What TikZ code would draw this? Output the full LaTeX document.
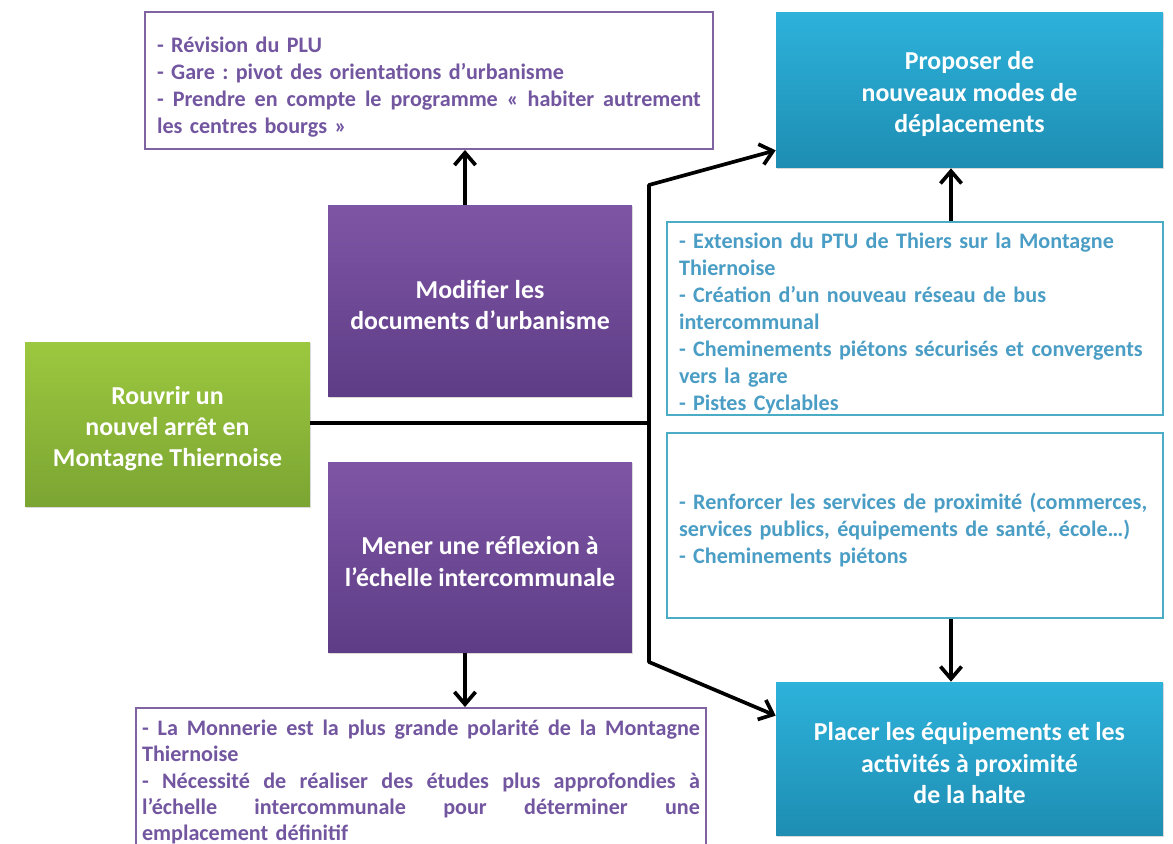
\documentclass[tikz,border=0pt]{standalone}
\usepackage{fontspec}
\setmainfont{Carlito}
\usetikzlibrary{positioning, arrows.meta, shadows}
\frenchspacing

\definecolor{violettrait}{HTML}{8064A2}
\definecolor{violettexte}{HTML}{7356A0}
\definecolor{bleutrait}{HTML}{4BACC6}
\definecolor{bleutexte}{HTML}{4A9DC4}

% ligne justifiee a la main
\newcommand{\justligne}[2]{\leavevmode\hbox to #1{\spaceskip=\fontdimen2\font plus 1fil\relax #2}}
% cale en tete de texte
\newcommand{\cale}[1]{\rule{0pt}{#1}}

\begin{document}
\begin{tikzpicture}[x=0.02cm, y=-0.02cm, >={Straight Barb[length=7pt,width=12pt]},
    lien/.style={line width=2.1pt, line join=round},
    titre/.style={rectangle, align=center, text=white, inner sep=0pt,
      font=\fontsize{14.7}{17.8}\selectfont\bfseries,
      drop shadow={shadow xshift=0.8pt, shadow yshift=-0.8pt, opacity=0.3}},
    violet node/.style={titre, top color={rgb,255:red,126;green,85;blue,165},
      bottom color={rgb,255:red,94;green,61;blue,134}, minimum width=6.08cm},
    vert node/.style={titre, top color={rgb,255:red,156;green,200;blue,63},
      bottom color={rgb,255:red,123;green,165;blue,50}},
    bleu node/.style={titre, top color={rgb,255:red,45;green,178;blue,219},
      bottom color={rgb,255:red,30;green,141;blue,178}, minimum width=7.74cm},
    liste/.style={rectangle, draw, line width=1.1pt, fill=white, align=left,
      inner xsep=0.24cm, inner ysep=0pt, font=\fontsize{12.6}{15.4}\selectfont\bfseries},
    liste violet/.style={liste, draw=violettrait, text=violettexte},
    liste bleu/.style={liste, draw=bleutrait, text=bleutexte}]

  \useasboundingbox (0,0) rectangle (1173,844);

  % noeuds principaux
  \node[vert node, minimum width=5.7cm, minimum height=3.3cm] (rouvrir) at (167.5,424.5)
    {\cale{15pt}Rouvrir un\\nouvel arrêt en\\Montagne Thiernoise};
  \node[violet node, minimum height=3.84cm] (modifier) at (480,301)
    {\cale{15pt}Modifier les\\documents d’urbanisme};
  \node[violet node, minimum height=3.82cm] (mener) at (480,557.5)
    {\cale{15pt}Mener une réflexion à\\l’échelle intercommunale};
  \node[bleu node, minimum height=3.12cm] (proposer) at (969.5,90)
    {\cale{15pt}Proposer de\\nouveaux modes de\\déplacements};
  \node[bleu node, minimum height=3.08cm] (placer) at (969.5,759)
    {\cale{15pt}Placer les équipements et les\\activités à proximité\\de la halte};

  % encadres
  \node[liste violet, text width=10.88cm, minimum width=11.36cm, minimum height=2.74cm] (haut) at (429,80.5)
    {\cale{16.8pt}- Révision du PLU\\
     - Gare : pivot des orientations d’urbanisme\\
     \justligne{10.88cm}{- Prendre en compte le programme «~habiter autrement}\\
     les centres bourgs~»};
  \node[liste violet, inner xsep=0.12cm, text width=11.16cm, minimum width=11.4cm, minimum height=2.96cm,
        font=\fontsize{12.6}{14.9}\selectfont\bfseries] (bas) at (421,782)
    {\justligne{11.16cm}{- La Monnerie est la plus grande polarité de la Montagne}\\
     Thiernoise\\
     \justligne{11.16cm}{- Nécessité de réaliser des études plus approfondies à}\\
     \justligne{11.16cm}{l’échelle intercommunale pour déterminer une}\\
     emplacement définitif};
  \node[liste bleu, text width=9.44cm, minimum width=9.92cm, minimum height=3.86cm] (mobil) at (915,318.5)
    {\cale{14.4pt}- Extension du PTU de Thiers sur la Montagne\\
     Thiernoise\\
     - Création d’un nouveau réseau de bus\\
     intercommunal\\
     - Cheminements piétons sécurisés et convergents\\
     vers la gare\\
     - Pistes Cyclables};
  \node[liste bleu, text width=9.44cm, minimum width=9.92cm, minimum height=3.7cm] (services) at (915,525.5)
    {\cale{14.4pt}\mbox{- Renforcer les services de proximité (commerces,}\\
     services publics, équipements de santé, école…)\\
     - Cheminements piétons};

  % liaisons
  \coordinate (carrefour) at (649,423);
  \coordinate (coudehaut) at (649,185);
  \coordinate (coudebas) at (649,662);

  \draw[lien] (rouvrir.east |- carrefour) -- (carrefour);
  \draw[lien,->] (carrefour) -- (coudehaut) -- ([yshift=0.36cm]proposer.south west);
  \draw[lien,->] (carrefour) -- (coudebas) -- ([yshift=-0.68cm]placer.north west);
  \draw[lien,->] ([xshift=-0.3cm]modifier.north) -- ([xshift=-0.3cm]modifier.north |- haut.south);
  \draw[lien,->] ([xshift=-0.3cm]mener.south) -- ([xshift=-0.3cm]mener.south |- bas.north);
  \draw[lien,->] ([xshift=0.72cm]mobil.north) -- ([xshift=0.72cm]mobil.north |- proposer.south);
  \draw[lien,->] ([xshift=0.72cm]services.south) -- ([xshift=0.72cm]services.south |- placer.north);
\end{tikzpicture}
\end{document}
